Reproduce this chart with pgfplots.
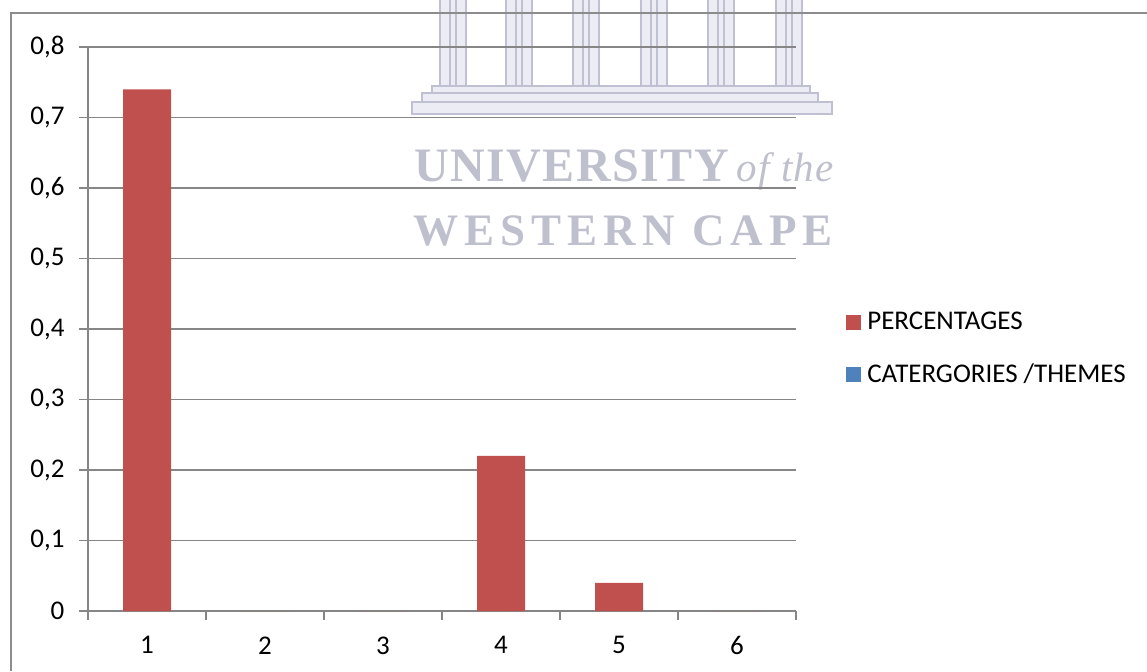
\documentclass[border=0pt]{standalone}
\usepackage{fontspec}
\setmainfont{Carlito}
\newfontfamily\crestserif[LetterSpace=3]{Liberation Serif}
\newfontfamily\crestspaced[LetterSpace=13.5]{Liberation Serif}
\usepackage{pgfplots}
\pgfplotsset{compat=1.18}

\definecolor{barred}{HTML}{C0504D}
\definecolor{barblue}{HTML}{4F81BD}
\definecolor{gridgray}{HTML}{868686}
\definecolor{framegray}{HTML}{8C8C8C}
\definecolor{crestfill}{HTML}{ECEDF4}
\definecolor{crestline}{HTML}{BFC1D3}
\definecolor{cresttext}{HTML}{BEC0CD}

\pgfplotsset{
  sq legend/.style={legend image code/.code={%
    \fill[##1] (0pt,-3.75pt) rectangle (7.5pt,3.75pt);
    \path (9.2pt,0pt);}}
}

\begin{document}
\begin{tikzpicture}
\useasboundingbox (0,0) rectangle (573.5pt,335.5pt);

% crest in the background (pixel-like units, origin top left)
\begin{scope}[x=0.5pt,y=-0.5pt,shift={(0pt,335.5pt)}]
  \foreach \c in {453,519,586,654,721,789}{
    \fill[crestfill] (\c-14,0) rectangle (\c+14,86);
    \draw[crestline,line width=1.3pt] (\c-13,0) -- (\c-13,86);
    \draw[crestline,line width=1.3pt] (\c-3,0) -- (\c-3,86);
    \draw[crestline,line width=1.3pt] (\c+3,0) -- (\c+3,86);
    \draw[crestline,line width=1.3pt] (\c+13,0) -- (\c+13,86);
  }
  \filldraw[fill=crestfill,draw=crestline,line width=1.1pt] (432,86) rectangle (810,93);
  \filldraw[fill=crestfill,draw=crestline,line width=1.1pt] (422,93) rectangle (818,102);
  \filldraw[fill=crestfill,draw=crestline,line width=1.1pt] (412,102) rectangle (832,114);
  \node[anchor=base west,inner sep=0pt,text=cresttext] at (414,182)
    {\crestserif\bfseries\fontsize{24}{24}\selectfont UNIVERSITY\,\itshape\mdseries\fontsize{20.5}{20.5}\selectfont of the};
  \node[anchor=base west,inner sep=0pt,text=cresttext] at (413,245)
    {\crestspaced\bfseries\fontsize{22.5}{22.5}\selectfont WESTERN CAPE};
  % chart frame
  \draw[framegray,line width=0.75pt] (11,671) -- (11,13) -- (1147,13);
\end{scope}

\begin{axis}[
  at={(44pt,30pt)}, anchor=south west,
  scale only axis, width=354pt, height=282pt,
  xmin=0.5, xmax=6.5, ymin=0, ymax=0.8,
  axis lines=left,
  axis line style={gridgray, line width=0.75pt, -},
  ymajorgrids,
  major grid style={gridgray, line width=0.75pt},
  ytick={0,0.1,0.2,0.3,0.4,0.5,0.6,0.7,0.8},
  yticklabels={0,{0,1},{0,2},{0,3},{0,4},{0,5},{0,6},{0,7},{0,8}},
  xtick={0.5,1.5,2.5,3.5,4.5,5.5,6.5},
  xticklabels={},
  extra x ticks={1,2,3,4,5,6},
  extra x tick labels={1,2,3,4,5,6},
  extra x tick style={tick style={draw=none}, grid=none},
  tick align=outside,
  major tick length=4.25pt,
  tick style={gridgray, line width=0.75pt},
  /pgf/number format/assume math mode=true,
  tick label style={font=\fontsize{13.5}{16}\selectfont},
  yticklabel style={xshift=-4pt},
  xticklabel style={yshift=-5pt},
  legend style={draw=none, fill=none, at={(1.0615,0.4655)}, anchor=west,
    font=\fontsize{13.5}{16}\selectfont, row sep=12.5pt,
    nodes={inner sep=1.5pt}},
  legend cell align=left,
  clip=false,
]
\addplot[ybar, bar width=24pt, fill=barred, draw=none, sq legend]
  coordinates {(1,0.74) (2,0) (3,0) (4,0.22) (5,0.04) (6,0)};
\addlegendentry{PERCENTAGES}
\addlegendimage{fill=barblue, draw=none, sq legend}
\addlegendentry{CATERGORIES /THEMES}
\end{axis}
\end{tikzpicture}
\end{document}
